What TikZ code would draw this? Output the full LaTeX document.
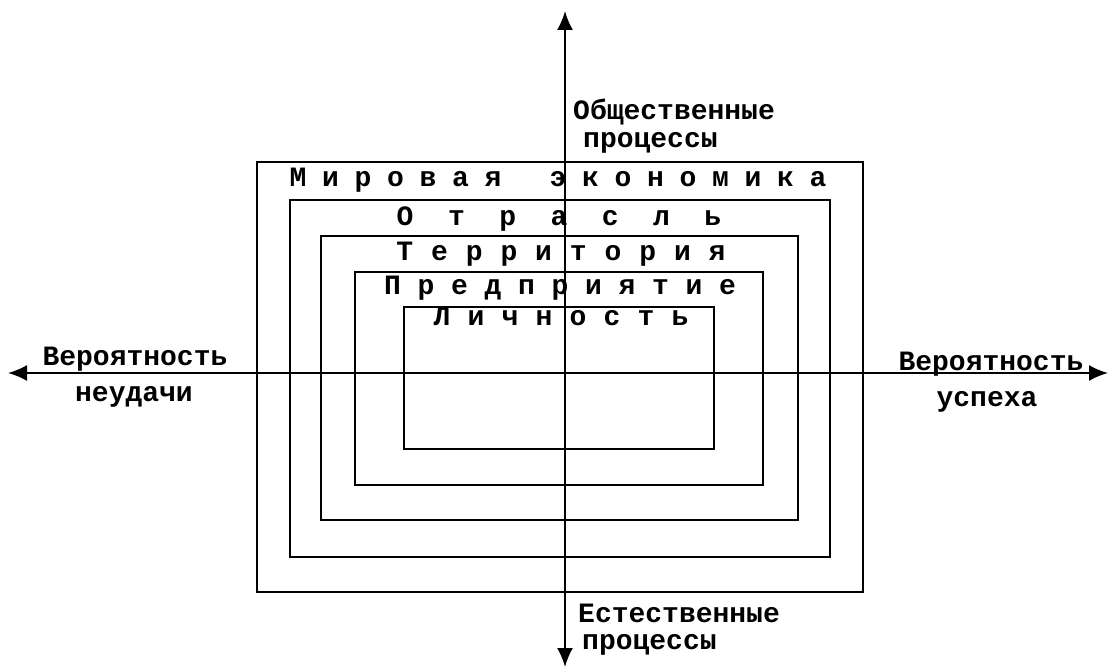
\documentclass[tikz,border=0pt]{standalone}
\usepackage{fontspec}
\setmonofont{Liberation Mono}
\usetikzlibrary{arrows.meta}
\newlength\pitchlen
\def\spacedlet#1{\ifx#1\relax\else\makebox[\pitchlen][c]{#1}\expandafter\spacedlet\fi}
\newcommand\spaced[2]{\setlength\pitchlen{#1}\spacedlet#2\relax}
\tikzset{
  frame/.style={draw, line width=1.6pt, inner sep=0pt},
  title/.style={anchor=base, inner sep=0pt},
  lbl/.style={inner sep=0pt},
  axis/.style={line width=2pt, {Latex[length=19pt,width=16pt]}-{Latex[length=19pt,width=16pt]}}
}
\begin{document}
\begin{tikzpicture}[x=1pt,y=-1pt,font=\ttfamily\bfseries\fontsize{28}{34}\selectfont]
\useasboundingbox[fill=white] (0,0) rectangle (1110,671);
% nested frames
\node[frame, minimum width=606pt, minimum height=430pt] (r1) at (560,377) {};
\node[frame, minimum width=540pt, minimum height=357pt] (r2) at (560,378.5) {};
\node[frame, minimum width=477pt, minimum height=284pt] (r3) at (559.5,378) {};
\node[frame, minimum width=408pt, minimum height=213pt] (r4) at (559,378.5) {};
\node[frame, minimum width=310pt, minimum height=142pt] (r5) at (559,378) {};
% titles
\node[title] (t1) at (558,186) {\spaced{32.5pt}{Мировая~экономика}};
\node[title] (t2) at (559,225) {\spaced{51.3pt}{Отрасль}};
\node[title] (t3) at (561,260) {\spaced{34.7pt}{Территория}};
\node[title] (t4) at (560,294) {\spaced{33.5pt}{Предприятие}};
\node[title] (t5) at (561,325) {\spaced{34pt}{Личность}};
% axis labels
\node[lbl, anchor=base] (l1) at (135,365) {Вероятность};
\node[lbl, anchor=base] (l2) at (134,401) {неудачи};
\node[lbl, anchor=base] (p1) at (991,370) {Вероятность};
\node[lbl, anchor=base] (p2) at (987,406) {успеха};
\node[lbl, anchor=base west] (u1) at (573,120) {Общественные};
\node[lbl, anchor=base west] (u2) at (583,148) {процессы};
\node[lbl, anchor=base west] (d1) at (578,622) {Естественные};
\node[lbl, anchor=base west] (d2) at (582,649) {процессы};
% axes
\coordinate (ytop) at (565,11);
\coordinate (ybot) at (565,667);
\coordinate (xl) at (8,373);
\coordinate (xr) at (1108,373);
\draw[axis] (xl) -- (xr);
\draw[axis] (ybot) -- (ytop);
\end{tikzpicture}
\end{document}
